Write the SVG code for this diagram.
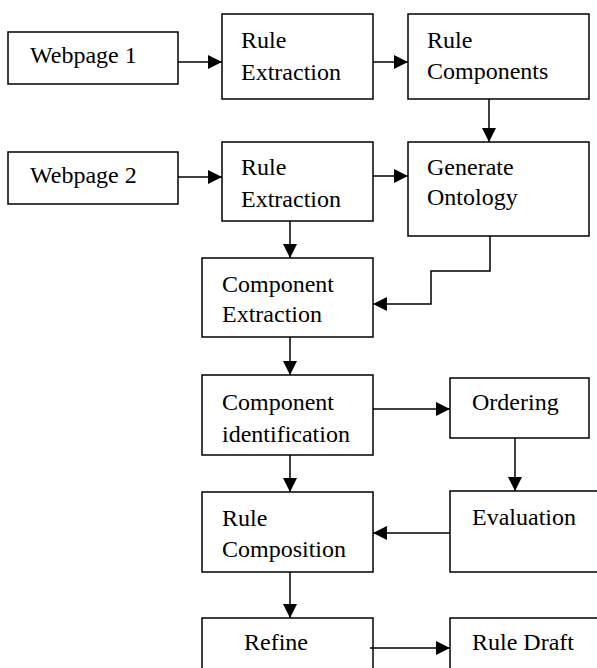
<svg xmlns="http://www.w3.org/2000/svg" width="597" height="668" viewBox="0 0 597 668">
<style>
.box{fill:#fff;stroke:#000;stroke-width:1.5}
.t{font-family:"Liberation Serif","Times New Roman",serif;font-size:24px;fill:#000}
.c{fill:none;stroke:#000;stroke-width:1.5}
</style>
<defs>
<marker id="ah" viewBox="0 0 14 14" refX="14" refY="7" markerWidth="14" markerHeight="14" markerUnits="userSpaceOnUse" orient="auto">
<path d="M0,0 L14,7 L0,14 Z" fill="#000"/>
</marker>
</defs>
<rect width="597" height="668" fill="#fff"/>
<g id="webpage1"><rect class="box" x="8" y="32" width="170" height="52"/><text class="t" x="30" y="63">Webpage 1</text></g>
<g id="ruleExtraction1"><rect class="box" x="222" y="14" width="151" height="85"/><text class="t" x="241" y="48">Rule</text><text class="t" x="241" y="80">Extraction</text></g>
<g id="ruleComponents"><rect class="box" x="408" y="14" width="181" height="85"/><text class="t" x="427" y="48">Rule</text><text class="t" x="427" y="79">Components</text></g>
<g id="webpage2"><rect class="box" x="8" y="152" width="170" height="52"/><text class="t" x="30" y="183">Webpage 2</text></g>
<g id="ruleExtraction2"><rect class="box" x="222" y="142" width="151" height="79"/><text class="t" x="241" y="175">Rule</text><text class="t" x="241" y="207">Extraction</text></g>
<g id="generateOntology"><rect class="box" x="408" y="142" width="181" height="94"/><text class="t" x="427" y="175">Generate</text><text class="t" x="427" y="205">Ontology</text></g>
<g id="componentExtraction"><rect class="box" x="202" y="258" width="171" height="79"/><text class="t" x="222" y="292">Component</text><text class="t" x="222" y="322">Extraction</text></g>
<g id="componentIdentification"><rect class="box" x="202" y="375" width="171" height="80"/><text class="t" x="222" y="410">Component</text><text class="t" x="222" y="442">identification</text></g>
<g id="ordering"><rect class="box" x="450" y="378" width="139" height="60"/><text class="t" x="472" y="410">Ordering</text></g>
<g id="ruleComposition"><rect class="box" x="202" y="492" width="171" height="80"/><text class="t" x="222" y="526">Rule</text><text class="t" x="222" y="557">Composition</text></g>
<g id="evaluation"><rect class="box" x="450" y="491" width="160" height="81"/><text class="t" x="472" y="525">Evaluation</text></g>
<g id="refine"><rect class="box" x="202" y="618" width="171" height="70"/><text class="t" x="244" y="650">Refine</text></g>
<g id="ruleDraft"><rect class="box" x="450" y="618" width="160" height="70"/><text class="t" x="472" y="650">Rule Draft</text></g>
<g id="connectors">
<line class="c" x1="178" y1="62" x2="222" y2="62" marker-end="url(#ah)"/>
<line class="c" x1="373" y1="62" x2="408" y2="62" marker-end="url(#ah)"/>
<line class="c" x1="489" y1="99" x2="489" y2="142" marker-end="url(#ah)"/>
<line class="c" x1="178" y1="177" x2="222" y2="177" marker-end="url(#ah)"/>
<line class="c" x1="373" y1="176" x2="408" y2="176" marker-end="url(#ah)"/>
<line class="c" x1="290" y1="221" x2="290" y2="258" marker-end="url(#ah)"/>
<polyline class="c" points="490,236 490,271 431,271 431,304 373,304" marker-end="url(#ah)"/>
<line class="c" x1="290" y1="337" x2="290" y2="375" marker-end="url(#ah)"/>
<line class="c" x1="373" y1="409" x2="450" y2="409" marker-end="url(#ah)"/>
<line class="c" x1="515" y1="438" x2="515" y2="491" marker-end="url(#ah)"/>
<line class="c" x1="290" y1="455" x2="290" y2="492" marker-end="url(#ah)"/>
<line class="c" x1="450" y1="533" x2="373" y2="533" marker-end="url(#ah)"/>
<line class="c" x1="290" y1="572" x2="290" y2="618" marker-end="url(#ah)"/>
<line class="c" x1="370" y1="648" x2="450" y2="648" marker-end="url(#ah)"/>
</g>
</svg>
